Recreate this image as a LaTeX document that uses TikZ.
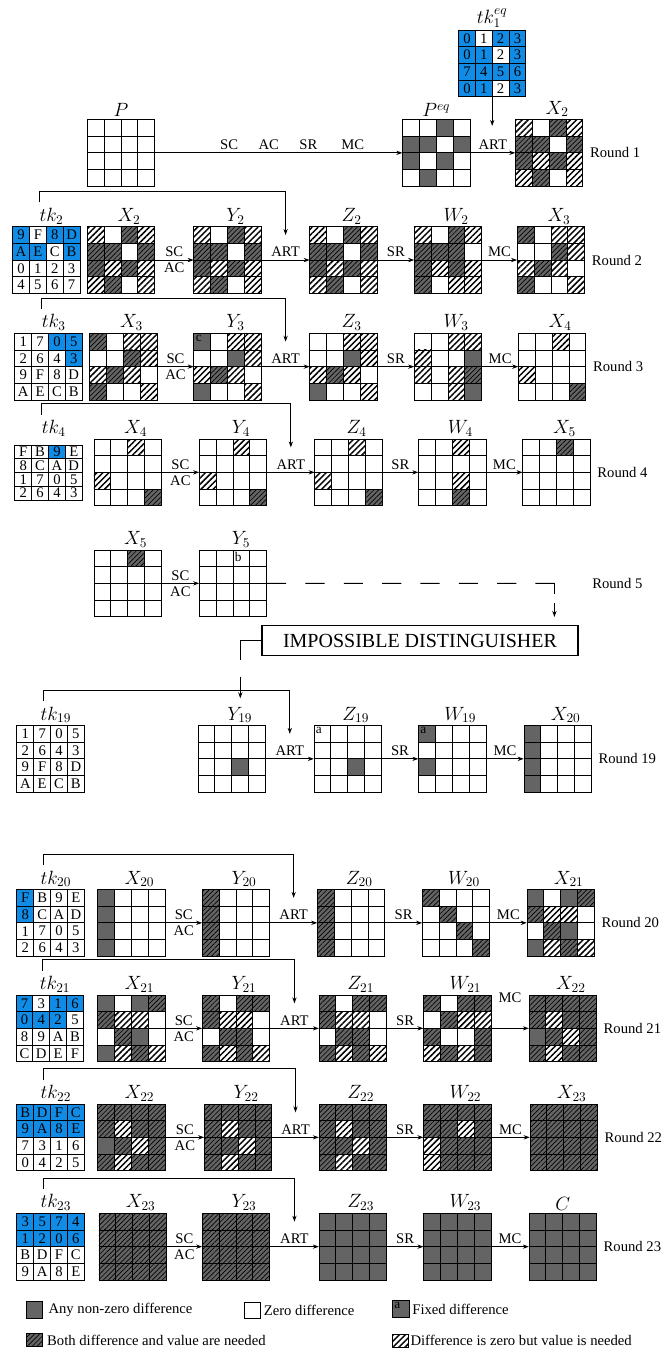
\documentclass[tikz,border=0pt]{standalone}
\usepackage{fontspec}
\setmainfont{Liberation Serif}
\usetikzlibrary{arrows.meta, positioning, calc, fit, patterns.meta}

\definecolor{nzgray}{RGB}{100,100,100}
\definecolor{tkblue}{RGB}{16,140,230}

\newcommand{\cellw}{16.85}
\newcommand{\cellh}{16.67}
\newcommand{\keyh}{16.67}

% state: [label opts]{name}{top left}{label}{cell codes}
\newcommand{\stgrid}[5][xshift=6pt]{%
  \begin{scope}[shift={(#3)}]
    \foreach \sty [count=\i from 0] in {#5} {
      \pgfmathtruncatemacro\cx{mod(\i,4)}
      \pgfmathtruncatemacro\cy{div(\i,4)}
      \node[cell, \sty] (#2-\i) at ({(\cx+0.5)*\cellw}, {(\cy+0.5)*\cellh}) {};
    }
  \end{scope}
  \node[fit=(#2-0)(#2-15), inner sep=0pt] (#2) {};
  \node[lbl, above=0pt of #2.north, #1] (#2l) {#4};
}
% tweakey: [label opts]{name}{top left}{label}{fill/nibble}
\newcommand{\tkgrid}[5][xshift=4pt]{%
  \begin{scope}[shift={(#3)}]
    \foreach \sty/\lab [count=\i from 0] in {#5} {
      \pgfmathtruncatemacro\cx{mod(\i,4)}
      \pgfmathtruncatemacro\cy{div(\i,4)}
      \node[kcell, \sty] (#2-\i) at ({(\cx+0.5)*\cellw}, {(\cy+0.5)*\keyh}) {\lab};
    }
  \end{scope}
  \node[fit=(#2-0)(#2-15), inner sep=0pt] (#2) {};
  \node[lbl, above=0pt of #2.north, #1] (#2l) {#4};
}

\begin{document}
\begin{tikzpicture}[x=0.75pt, y=-0.75pt,
  cell/.style={draw, line width=0.7pt, inner sep=0pt, outer sep=0pt, minimum width=12.64pt, minimum height=12.5pt},
  kcell/.style={cell, minimum height=\keyh*0.75pt, font=\fontsize{11}{12}\selectfont},
  zz/.style={fill=white},
  nz/.style={fill=nzgray},
  bv/.style={preaction={fill=nzgray}, pattern={Lines[angle=45, distance=2.6pt, line width=0.5pt]}, pattern color=black},
  zv/.style={preaction={fill=white}, pattern={Lines[angle=45, distance=3.2pt, line width=1.1pt]}, pattern color=black},
  kb/.style={fill=tkblue},
  kw/.style={fill=white},
  tag/.style={anchor=north west, inner sep=1.2pt, font=\fontsize{10}{11}\selectfont},
  lbl/.style={font=\Large, inner sep=1.5pt},
  op/.style={font=\fontsize{11}{13}\selectfont, inner sep=2pt},
  rnd/.style={font=\fontsize{11}{13}\selectfont, inner sep=0pt},
  leg/.style={font=\fontsize{11}{13}\selectfont, inner sep=0pt},
  idbox/.style={draw, line width=0.9pt, minimum width=237pt, minimum height=23pt, inner sep=0pt, font=\fontsize{15}{18}\selectfont},
  arr/.style={-{Stealth[length=4.5pt, width=3.2pt]}, line width=0.6pt}
]
  \path[use as bounding box, fill=white] (0,0) rectangle (661,1354);

  % round 1
  \tkgrid[]{K1}{458.5,30}{$tk_1^{eq}$}{kb/0,kw/1,kb/2,kb/3, kb/0,kb/1,kw/2,kb/3, kb/7,kb/4,kb/5,kb/6, kb/0,kb/1,kw/2,kb/3}
  \stgrid[]{P}{87.3,119.5}{$P$}{zz,zz,zz,zz, zz,zz,zz,zz, zz,zz,zz,zz, zz,zz,zz,zz}
  \stgrid[]{Peq}{402.6,119.5}{$P^{eq}$}{zz,zz,nz,zz, nz,nz,zz,nz, nz,zz,nz,zz, zz,nz,zz,zz}
  \stgrid{R1N}{515.5,119.5}{$X_2$}{zv,zz,bv,zv, bv,bv,zz,bv, bv,zv,bv,zv, zv,bv,zz,zv}
  \draw[arr] (P.east) -- node[op, above, pos=.30]{SC} node[op, above, pos=.46]{AC}
    node[op, above, pos=.62]{SR} node[op, above, pos=.80]{MC} (Peq.west);
  \draw[arr] (Peq.east) -- node[op, above]{ART} (R1N.west);
  \coordinate (k1e) at ($(K1.south)+(0,29)$);
  \draw[arr] (K1.south) -- (k1e);

  % round 2
  \tkgrid{K2}{12.6,226.7}{$tk_2$}{kb/9,kw/F,kb/8,kb/D, kb/A,kb/E,kw/C,kb/B, kw/0,kw/1,kw/2,kw/3, kw/4,kw/5,kw/6,kw/7}
  \stgrid{R2X}{87.3,226.7}{$X_2$}{zv,zz,bv,zv, bv,bv,zz,bv, bv,zv,bv,zv, zv,bv,zz,zv}
  \stgrid{R2Y}{193.9,226.7}{$Y_2$}{zv,zz,bv,zv, bv,bv,zz,bv, bv,zv,bv,zv, zv,bv,zz,zv}
  \stgrid{R2Z}{309.9,226.7}{$Z_2$}{zv,zz,bv,zv, bv,bv,zz,bv, bv,zv,bv,zv, zv,bv,zz,zv}
  \stgrid{R2W}{414.4,226.7}{$W_2$}{zv,zz,bv,zv, bv,bv,bv,zz, bv,zv,bv,zv, bv,zz,zv,zv}
  \stgrid{R2N}{517.3,226.7}{$X_3$}{bv,zz,zv,zv, zz,zz,bv,zv, zv,bv,zv,zz, bv,zz,zz,zv}

  % round 3
  \tkgrid{K3}{14.8,333.3}{$tk_3$}{kw/1,kw/7,kb/0,kb/5, kw/2,kw/6,kw/4,kb/3, kw/9,kw/F,kw/8,kw/D, kw/A,kw/E,kw/C,kw/B}
  \stgrid{R3X}{89.8,333.3}{$X_3$}{bv,zz,zv,zv, zz,zz,bv,zv, zv,bv,zv,zz, bv,zz,zz,zv}
  \stgrid{R3Y}{193.9,333.3}{$Y_3$}{nz,zz,zv,zv, zz,zz,nz,zv, zv,bv,zv,zz, nz,zz,zz,zv}
  \stgrid{R3Z}{309.9,333.3}{$Z_3$}{zz,zz,zv,zv, zz,zz,nz,zv, zv,bv,zv,zz, nz,zz,zz,zv}
  \stgrid{R3W}{414.4,333.3}{$W_3$}{zz,zz,zv,zv, zv,zz,zz,nz, zv,zz,zv,bv, zz,zz,zv,nz}
  \stgrid{R3N}{518.5,333.3}{$X_4$}{zz,zz,zv,zz, zz,zz,zz,zz, zv,zz,zz,zz, zz,zz,zz,bv}
  \node[tag] at (R3Y-0.north west) {c};

  % round 4
  {\renewcommand{\keyh}{13.75}
  \tkgrid[xshift=4pt, yshift=4.5pt]{K4}{14.8,445}{$tk_4$}{kw/F,kw/B,kb/9,kw/E, kw/8,kw/C,kw/A,kw/D, kw/1,kw/7,kw/0,kw/5, kw/2,kw/6,kw/4,kw/3}}
  \stgrid{R4X}{94,439}{$X_4$}{zz,zz,zv,zz, zz,zz,zz,zz, zv,zz,zz,zz, zz,zz,zz,bv}
  \stgrid{R4Y}{199.4,439}{$Y_4$}{zz,zz,zv,zz, zz,zz,zz,zz, zv,zz,zz,zz, zz,zz,zz,bv}
  \stgrid{R4Z}{314.9,439}{$Z_4$}{zz,zz,zv,zz, zz,zz,zz,zz, zv,zz,zz,zz, zz,zz,zz,bv}
  \stgrid{R4W}{418.6,439}{$W_4$}{zz,zz,zv,zz, zz,zz,zz,zz, zz,zz,zv,zz, zz,zz,bv,zz}
  \stgrid{R4N}{522.8,439}{$X_5$}{zz,zz,bv,zz, zz,zz,zz,zz, zz,zz,zz,zz, zz,zz,zz,zz}

  % round 5
  \stgrid{R5X}{94,550}{$X_5$}{zz,zz,bv,zz, zz,zz,zz,zz, zz,zz,zz,zz, zz,zz,zz,zz}
  \stgrid{R5Y}{199.4,550}{$Y_5$}{zz,zz,zz,zz, zz,zz,zz,zz, zz,zz,zz,zz, zz,zz,zz,zz}
  \node[tag] at (R5Y-2.north west) {b};
  \draw[arr] (R5X.east) -- node[op, above]{SC} node[op, below]{AC} (R5Y.west);
  \node[rnd, anchor=west] at (592,583.3) {Round 5};

  % impossible distinguisher
  \node[idbox] (ID) at (420,640.5) {IMPOSSIBLE DISTINGUISHER};
  \coordinate (d1) at (554.4,583.3);
  \coordinate (d2) at (554.4,617);
  \draw[line width=0.8pt, dash pattern=on 14.38pt off 14.38pt] (R5Y.east) -- (d1);
  \draw[arr, line width=0.8pt, dash pattern=on 8pt off 7pt] (d1) -- (d2);
  \coordinate (d3) at (240.3,660);
  \draw[line width=0.8pt] (ID.west) -| (d3);
  \coordinate (d4) at (240.3,676.7);
  \coordinate (d5) at (240.3,698.3);
  \draw[arr, line width=1.1pt] (d4) -- (d5);

  % round 19
  \tkgrid{K19}{16.9,725.5}{$tk_{19}$}{kw/1,kw/7,kw/0,kw/5, kw/2,kw/6,kw/4,kw/3, kw/9,kw/F,kw/8,kw/D, kw/A,kw/E,kw/C,kw/B}
  \stgrid{R19Y}{198.1,725.5}{$Y_{19}$}{zz,zz,zz,zz, zz,zz,zz,zz, zz,zz,nz,zz, zz,zz,zz,zz}
  \stgrid{R19Z}{314.1,725.5}{$Z_{19}$}{zz,zz,zz,zz, zz,zz,zz,zz, zz,zz,nz,zz, zz,zz,zz,zz}
  \stgrid{R19W}{418.6,725.5}{$W_{19}$}{nz,zz,zz,zz, zz,zz,zz,zz, nz,zz,zz,zz, zz,zz,zz,zz}
  \stgrid{R19N}{524,725.5}{$X_{20}$}{nz,zz,zz,zz, nz,zz,zz,zz, nz,zz,zz,zz, nz,zz,zz,zz}
  \node[tag] at (R19Z-0.north west) {a};
  \node[tag] at (R19W-0.north west) {a};
  \draw[arr] (R19Y.east) -- node[op, above]{ART} (R19Z.west);
  \draw[arr] (R19Z.east) -- node[op, above]{SR} (R19W.west);
  \draw[arr] (R19W.east) -- node[op, above]{MC} (R19N.west);

  % round 20
  \tkgrid{K20}{16.9,889.5}{$tk_{20}$}{kb/F,kw/B,kw/9,kw/E, kb/8,kw/C,kw/A,kw/D, kw/1,kw/7,kw/0,kw/5, kw/2,kw/6,kw/4,kw/3}
  \stgrid{R20X}{97.8,889.5}{$X_{20}$}{nz,zz,zz,zz, nz,zz,zz,zz, nz,zz,zz,zz, nz,zz,zz,zz}
  \stgrid{R20Y}{202.4,889.5}{$Y_{20}$}{bv,zz,zz,zz, bv,zz,zz,zz, bv,zz,zz,zz, bv,zz,zz,zz}
  \stgrid{R20Z}{317.5,889.5}{$Z_{20}$}{bv,zz,zz,zz, bv,zz,zz,zz, bv,zz,zz,zz, bv,zz,zz,zz}
  \stgrid{R20W}{422.4,889.5}{$W_{20}$}{bv,zz,zz,zz, zz,bv,zz,zz, zz,zz,bv,zz, zz,zz,zz,bv}
  \stgrid{R20N}{527,889.5}{$X_{21}$}{nz,zz,nz,bv, bv,zv,zv,zz, zz,bv,nz,zz, nz,zv,bv,zv}

  % round 21
  \tkgrid{K21}{16,995}{$tk_{21}$}{kb/7,kw/3,kb/1,kb/6, kb/0,kb/4,kb/2,kw/5, kw/8,kw/9,kw/A,kw/B, kw/C,kw/D,kw/E,kw/F}
  \stgrid{R21X}{97.8,995}{$X_{21}$}{nz,zz,nz,bv, bv,zv,zv,zz, zz,bv,nz,zz, nz,zv,bv,zv}
  \stgrid{R21Y}{202.4,995}{$Y_{21}$}{bv,zz,bv,bv, bv,zv,zv,zz, zz,bv,bv,zz, bv,zv,bv,zv}
  \stgrid{R21Z}{319.1,995}{$Z_{21}$}{bv,zz,bv,bv, bv,zv,zv,zz, zz,bv,bv,zz, bv,zv,bv,zv}
  \stgrid{R21W}{423.7,995}{$W_{21}$}{bv,zz,bv,bv, zz,bv,zv,zv, bv,zz,zz,bv, zv,bv,zv,bv}
  \stgrid{R21N}{529.1,995}{$X_{22}$}{bv,bv,bv,bv, bv,zv,bv,bv, nz,bv,zv,bv, bv,zv,bv,bv}

  % round 22
  \tkgrid{K22}{16.9,1104}{$tk_{22}$}{kb/B,kb/D,kb/F,kb/C, kb/9,kb/A,kb/8,kb/E, kw/7,kw/3,kw/1,kw/6, kw/0,kw/4,kw/2,kw/5}
  \stgrid{R22X}{97.8,1104}{$X_{22}$}{bv,bv,bv,bv, bv,zv,bv,bv, nz,bv,zv,bv, bv,zv,bv,bv}
  \stgrid{R22Y}{204.5,1104}{$Y_{22}$}{bv,bv,bv,bv, bv,zv,bv,bv, bv,bv,zv,bv, bv,zv,bv,bv}
  \stgrid{R22Z}{319.1,1104}{$Z_{22}$}{bv,bv,bv,bv, bv,zv,bv,bv, bv,bv,zv,bv, bv,zv,bv,bv}
  \stgrid{R22W}{423.7,1104}{$W_{22}$}{bv,bv,bv,bv, bv,bv,zv,bv, zv,bv,bv,bv, zv,bv,bv,bv}
  \stgrid{R22N}{530,1104}{$X_{23}$}{bv,bv,bv,bv, bv,bv,bv,bv, bv,bv,bv,bv, bv,bv,bv,bv}

  % round 23
  \tkgrid{K23}{16.9,1213.3}{$tk_{23}$}{kb/3,kb/5,kb/7,kb/4, kb/1,kb/2,kb/0,kb/6, kw/B,kw/D,kw/F,kw/C, kw/9,kw/A,kw/8,kw/E}
  \stgrid{R23X}{99,1213.3}{$X_{23}$}{bv,bv,bv,bv, bv,bv,bv,bv, bv,bv,bv,bv, bv,bv,bv,bv}
  \stgrid{R23Y}{202.4,1213.3}{$Y_{23}$}{bv,bv,bv,bv, bv,bv,bv,bv, bv,bv,bv,bv, bv,bv,bv,bv}
  \stgrid{R23Z}{319.1,1213.3}{$Z_{23}$}{nz,nz,nz,nz, nz,nz,nz,nz, nz,nz,nz,nz, nz,nz,nz,nz}
  \stgrid{R23W}{423.7,1213.3}{$W_{23}$}{nz,nz,nz,nz, nz,nz,nz,nz, nz,nz,nz,nz, nz,nz,nz,nz}
  \stgrid[]{R23N}{529.1,1213.3}{$C$}{nz,nz,nz,nz, nz,nz,nz,nz, nz,nz,nz,nz, nz,nz,nz,nz}

  % round operations
  \foreach \rn/\mcy in {2/0pt, 3/0pt, 4/0pt, 20/0pt, 21/17pt, 22/0pt, 23/0pt} {
    \draw[arr] (R\rn X.east) -- node[op, above]{SC} node[op, below]{AC} (R\rn Y.west);
    \draw[arr] (R\rn Y.east) -- node[op, above]{ART} (R\rn Z.west);
    \draw[arr] (R\rn Z.east) -- node[op, above]{SR} (R\rn W.west);
    \draw[arr] (R\rn W.east) -- node[op, above, yshift=\mcy]{MC} (R\rn N.west);
  }
  % round key into ART
  \foreach \rn/\ky in {2/-24, 3/-24, 4/-30, 19/-24, 20/-24, 21/-24, 22/-24, 23/-24} {
    \coordinate (fb\rn) at ($(R\rn Y.east)!.5!(R\rn Z.west)+(0,-25)$);
    \draw[arr] ([shift={(27,\ky)}]K\rn.north west) -- ++(0,-11) -| (fb\rn);
  }
  \foreach \rn in {1,2,3,4,19,20,21,22,23}
    \node[rnd, right=5pt of R\rn N] {Round \rn};

  % legend
  \node[cell, nz] (lg1) at (34.5,1310) {};
  \node[leg, right=4pt of lg1] {Any non-zero difference};
  \node[cell, zz] (lg2) at (252.5,1310.5) {};
  \node[leg, right=2pt of lg2] {Zero difference};
  \node[cell, nz] (lg3) at (401,1309) {};
  \node[tag] at (lg3.north west) {a};
  \node[leg, right=2pt of lg3] {Fixed difference};
  \node[cell, bv, minimum height=10pt] (lg4) at (34.5,1340) {};
  \node[leg, right=3pt of lg4] {Both difference and value are needed};
  \node[cell, zv, minimum height=10pt] (lg5) at (400.5,1340.7) {};
  \node[leg, right=1pt of lg5] {Difference is zero but value is needed};
\end{tikzpicture}
\end{document}
